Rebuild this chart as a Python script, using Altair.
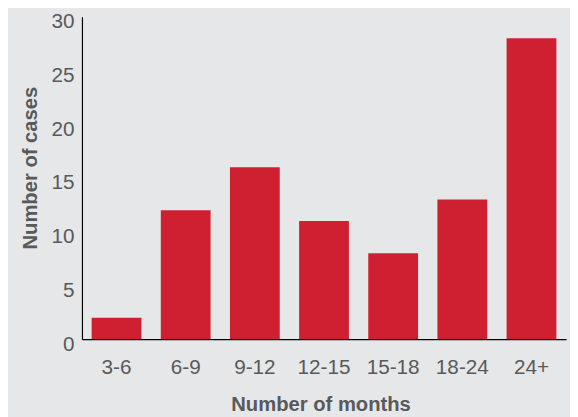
import altair as alt
import pandas as pd

categories = ["3-6", "6-9", "9-12", "12-15", "15-18", "18-24", "24+"]
cases = [2, 12, 16, 11, 8, 13, 28]

df = pd.DataFrame({"months": categories, "cases": cases})

FONT = "Liberation Sans"
GRAY = "#58595b"

chart = alt.Chart(df).mark_bar(color="#cf2031").encode(
    x=alt.X(
        "months:N",
        sort=categories,
        scale=alt.Scale(paddingInner=0.28, paddingOuter=0.14),
        axis=alt.Axis(
            title="Number of months",
            labelAngle=0,
            ticks=False,
            domainColor="#000000",
            domainWidth=1.2,
            labelFont=FONT,
            labelFontSize=21,
            labelColor=GRAY,
            labelBaseline="middle",
            labelPadding=29,
            titleFont=FONT,
            titleFontSize=20.5,
            titleFontWeight="bold",
            titleColor=GRAY,
            titleBaseline="middle",
            titleY=66,
            titleX=242,
        ),
    ),
    y=alt.Y(
        "cases:Q",
        scale=alt.Scale(domain=[0, 30], nice=False),
        axis=alt.Axis(
            title="Number of cases",
            values=[0, 5, 10, 15, 20, 25, 30],
            grid=False,
            ticks=False,
            domainColor="#000000",
            domainWidth=1.2,
            labelFont=FONT,
            labelFontSize=21,
            labelColor=GRAY,
            labelPadding=8,
            labelOffset=5,
            titleFont=FONT,
            titleFontSize=20.5,
            titleFontWeight="bold",
            titleColor=GRAY,
            titleBaseline="middle",
            titleX=-52,
            titleY=153,
            titleAngle=-90,
        ),
    ),
).properties(
    width=491,
    height=327,
    background="#e6e7e8",
    padding={"left": 75, "top": 6, "right": 4, "bottom": 76},
    autosize=alt.AutoSizeParams(type="none"),
).configure_view(stroke=None)

chart.save("out.html", embed_options={"renderer": "svg", "actions": False})
